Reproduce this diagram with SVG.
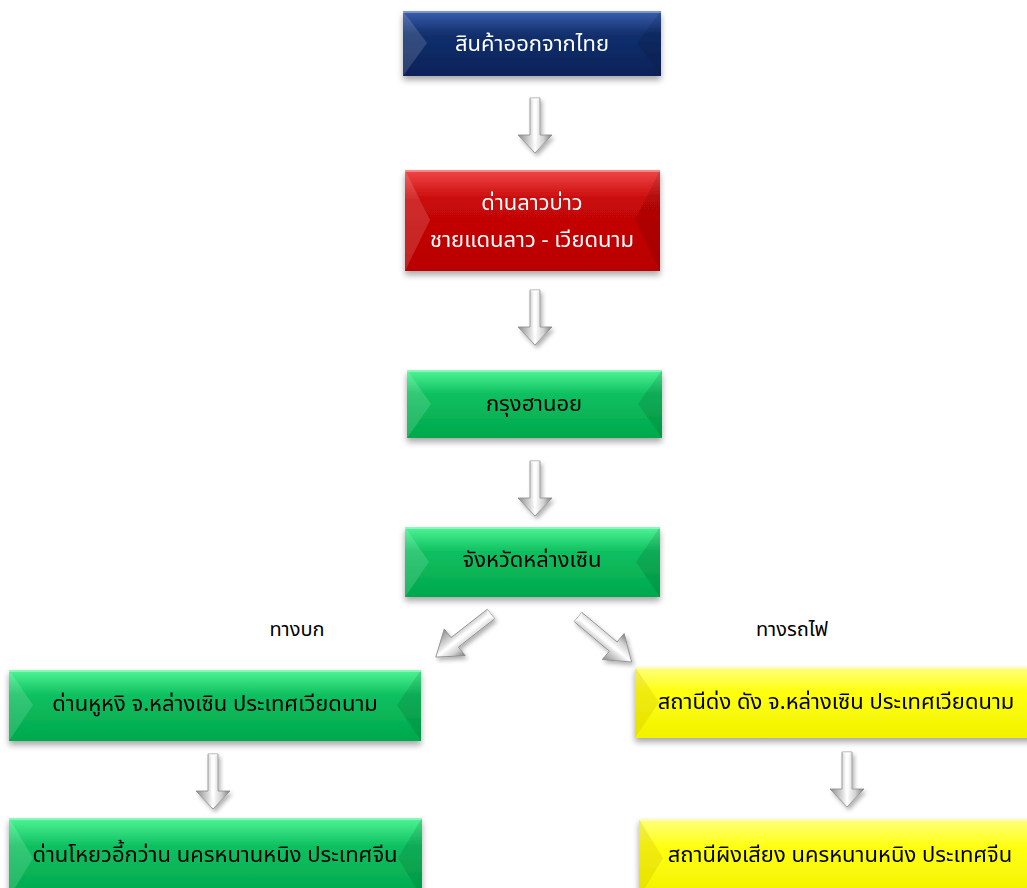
<svg xmlns="http://www.w3.org/2000/svg" width="1027" height="888" viewBox="0 0 1027 888">
<defs>
<filter id="sh" x="-10%" y="-20%" width="120%" height="150%">
<feDropShadow dx="0" dy="4" stdDeviation="3" flood-color="#000" flood-opacity="0.35"/>
</filter>
<filter id="ash" x="-50%" y="-50%" width="200%" height="200%">
<feDropShadow dx="2" dy="3" stdDeviation="2" flood-color="#000" flood-opacity="0.3"/>
</filter>
<linearGradient id="gNavy" x1="0" y1="0" x2="0" y2="1"><stop offset="0" stop-color="#3b5fae"/><stop offset="0.35" stop-color="#12306e"/><stop offset="1" stop-color="#0a2258"/></linearGradient>
<linearGradient id="gRed" x1="0" y1="0" x2="0" y2="1"><stop offset="0" stop-color="#f04848"/><stop offset="0.3" stop-color="#c80808"/><stop offset="1" stop-color="#b80000"/></linearGradient>
<linearGradient id="gGreen" x1="0" y1="0" x2="0" y2="1"><stop offset="0" stop-color="#4ff596"/><stop offset="0.35" stop-color="#0fc060"/><stop offset="1" stop-color="#00a84c"/></linearGradient>
<linearGradient id="gYellow" x1="0" y1="0" x2="0" y2="1"><stop offset="0" stop-color="#ffff80"/><stop offset="0.35" stop-color="#ffff10"/><stop offset="1" stop-color="#f2f200"/></linearGradient>
<linearGradient id="gArrow" x1="0" y1="0" x2="1" y2="0"><stop offset="0" stop-color="#8c8c8c"/><stop offset="0.35" stop-color="#d8d8d8"/><stop offset="0.5" stop-color="#ffffff"/><stop offset="0.75" stop-color="#d0d0d0"/><stop offset="1" stop-color="#7a7a7a"/></linearGradient>
<g id="downArrow">
<path d="M-5,0 H5 V37 H17 L0,55 L-17,37 H-5 Z" fill="url(#gArrow)" stroke="#8a8a8a" stroke-width="0.8"/>
<path d="M-5,0 L-2,3 V40 L0,49 L2,40 V3 L5,0 Z" fill="#ffffff" opacity="0.6"/>
</g>
<g id="diagArrow">
<path d="M-6,0 H6 V46 H17 L0,70 L-17,46 H-6 Z" fill="url(#gArrow)" stroke="#8a8a8a" stroke-width="0.8"/>
<path d="M-6,0 L-2,4 V49 L0,62 L2,49 V4 L6,0 Z" fill="#ffffff" opacity="0.6"/>
</g>
</defs>
<style>
.t{font-family:"Noto Sans Thai","Noto Sans","DejaVu Sans",sans-serif;font-size:22px;text-anchor:middle;dominant-baseline:central}
.w{fill:#ffffff}
.k{fill:#000000}
.lbl{font-family:"Noto Sans Thai","Noto Sans","DejaVu Sans",sans-serif;font-size:20px;fill:#000;text-anchor:middle;dominant-baseline:central}
.bl{fill:#ffffff;opacity:0.14}
.bd{fill:#000000;opacity:0.1}
.hl{fill:#ffffff;opacity:0.35}
</style>

<g id="n1" filter="url(#sh)">
<rect x="403" y="11" width="258" height="65" fill="url(#gNavy)"/>
<polygon points="403,11 427,43 403,76" class="bl"/>
<polygon points="661,11 637,43 661,76" class="bd"/>
<rect x="403" y="11" width="258" height="2" class="hl"/>
<text x="532" y="44" class="t w">สินค้าออกจากไทย</text>
</g>

<g id="n2" filter="url(#sh)">
<rect x="405" y="170" width="255" height="101" fill="url(#gRed)"/>
<polygon points="405,170 430,220 405,271" class="bl"/>
<polygon points="660,170 635,220 660,271" class="bd"/>
<rect x="405" y="170" width="255" height="2" class="hl"/>
<text x="532" y="203" class="t w">ด่านลาวบ่าว</text>
<text x="532" y="240" class="t w">ชายแดนลาว - เวียดนาม</text>
</g>

<g id="n3" filter="url(#sh)">
<rect x="407" y="370" width="255" height="68" fill="url(#gGreen)"/>
<polygon points="407,370 431,404 407,438" class="bl"/>
<polygon points="662,370 638,404 662,438" class="bd"/>
<rect x="407" y="370" width="255" height="2" class="hl"/>
<text x="534" y="404" class="t k">กรุงฮานอย</text>
</g>

<g id="n4" filter="url(#sh)">
<rect x="405" y="527" width="255" height="70" fill="url(#gGreen)"/>
<polygon points="405,527 429,562 405,597" class="bl"/>
<polygon points="660,527 636,562 660,597" class="bd"/>
<rect x="405" y="527" width="255" height="2" class="hl"/>
<text x="532" y="560" class="t k">จังหวัดหล่างเซิน</text>
</g>

<g id="n5" filter="url(#sh)">
<rect x="9" y="670" width="412" height="71" fill="url(#gGreen)"/>
<polygon points="9,670 33,705 9,741" class="bl"/>
<polygon points="421,670 397,705 421,741" class="bd"/>
<rect x="9" y="670" width="412" height="2" class="hl"/>
<text x="215" y="704" class="t k">ด่านหูหงิ จ.หล่างเซิน ประเทศเวียดนาม</text>
</g>

<g id="n6" filter="url(#sh)">
<rect x="9" y="818" width="413" height="80" fill="url(#gGreen)"/>
<polygon points="9,818 33,858 9,898" class="bl"/>
<polygon points="422,818 398,858 422,898" class="bd"/>
<rect x="9" y="818" width="413" height="2" class="hl"/>
<text x="215" y="855" class="t k">ด่านโหยวอี้กว่าน นครหนานหนิง ประเทศจีน</text>
</g>

<g id="n7" filter="url(#sh)">
<rect x="635" y="667" width="410" height="71" fill="url(#gYellow)"/>
<polygon points="635,667 659,702 635,738" fill="#c8b400" opacity="0.25"/>
<rect x="635" y="667" width="410" height="2" class="hl"/>
<text x="836" y="702" class="t k">สถานีด่ง ดัง จ.หล่างเซิน ประเทศเวียดนาม</text>
</g>

<g id="n8" filter="url(#sh)">
<rect x="639" y="819" width="410" height="80" fill="url(#gYellow)"/>
<polygon points="639,819 663,858 639,898" fill="#c8b400" opacity="0.25"/>
<rect x="639" y="819" width="410" height="2" class="hl"/>
<text x="840" y="855" class="t k">สถานีผิงเสียง นครหนานหนิง ประเทศจีน</text>
</g>

<g id="labels">
<text x="297" y="630" class="lbl">ทางบก</text>
<text x="792" y="630" class="lbl">ทางรถไฟ</text>
</g>

<g id="connectors" filter="url(#ash)">
<use href="#downArrow" transform="translate(535,98)"/>
<use href="#downArrow" transform="translate(535,290)"/>
<use href="#downArrow" transform="translate(535,461)"/>
<use href="#downArrow" transform="translate(213,754)"/>
<use href="#downArrow" transform="translate(847,752)"/>
<use href="#diagArrow" transform="translate(491,614) rotate(52)"/>
<use href="#diagArrow" transform="translate(578,617) rotate(-50)"/>
</g>
</svg>
